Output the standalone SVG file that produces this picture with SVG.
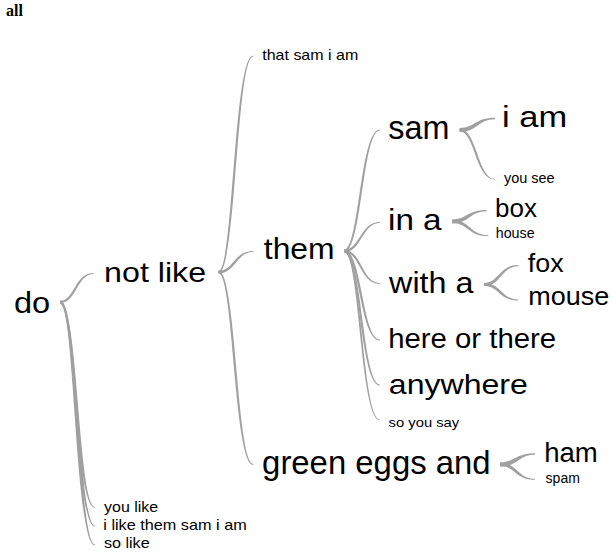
<svg xmlns="http://www.w3.org/2000/svg" width="613" height="557" viewBox="0 0 613 557">
<style>
  .w { font-family: "Liberation Sans", Arial, sans-serif; fill: #000; }
  .c path { fill: #a0a0a0; stroke: none; }
  .t { font-family: "Liberation Serif", "Times New Roman", serif; font-weight: bold; font-size: 16px; fill: #000; }
</style>
<rect width="613" height="557" fill="#fff"/>
<text class="t" x="6" y="16">all</text>
<g class="c" id="connectors">
  <path d="M60,300.8 C74.6,300.8 74.6,272.9 93.5,272.9 L93.5,274.1 C76.8,274.1 76.8,303.2 60,303.2Z"/>
  <path d="M60,300.4 C78.2,300.4 78.2,506.8 95,506.8 L95,507.8 C74.8,507.8 74.8,303.6 60,303.6Z"/>
  <path d="M60,300.4 C78.2,300.4 78.2,525.5 95,525.5 L95,526.5 C74.8,526.5 74.8,303.6 60,303.6Z"/>
  <path d="M60,300.4 C78.2,300.4 78.2,544.5 95,544.5 L95,545.5 C74.8,545.5 74.8,303.6 60,303.6Z"/>
  <path d="M218.5,270.8 C233.5,270.8 233.5,55.5 253.3,55.5 L253.3,56.5 C236.3,56.5 236.3,273.2 218.5,273.2Z"/>
  <path d="M218.5,270.7 C234,270.7 234,250.9 253.3,250.9 L253.3,252.1 C235.9,252.1 235.9,273.3 218.5,273.3Z"/>
  <path d="M218.5,270.8 C236.4,270.8 236.4,463.9 253.5,463.9 L253.5,465.1 C233.6,465.1 233.6,273.2 218.5,273.2Z"/>
  <path d="M344,249.8 C359.6,249.8 359.6,129.5 380,129.5 L380,130.5 C362.2,130.5 362.2,252.2 344,252.2Z"/>
  <path d="M344,249.8 C360.1,249.8 360.1,222 380,222 L380,223 C361.8,223 361.8,252.2 344,252.2Z"/>
  <path d="M344,249.8 C361.8,249.8 361.8,283 380,283 L380,284 C360.1,284 360.1,252.2 344,252.2Z"/>
  <path d="M344,249.8 C362.2,249.8 362.2,339.5 380,339.5 L380,340.5 C359.6,340.5 359.6,252.2 344,252.2Z"/>
  <path d="M344,249.8 C362.2,249.8 362.2,384.5 380,384.5 L380,385.5 C359.6,385.5 359.6,252.2 344,252.2Z"/>
  <path d="M344,250 C362,250 362,419.6 380,419.6 L380,420.4 C359.8,420.4 359.8,252 344,252Z"/>
  <path d="M459.5,128 C474.9,128 474.9,117.8 495,117.8 L495,119.2 C477.6,119.2 477.6,132 459.5,132Z"/>
  <path d="M459.5,128.7 C477.3,128.7 477.3,178.9 495,178.9 L495,179.7 C475.1,179.7 475.1,131.3 459.5,131.3Z"/>
  <path d="M452,219.5 C467,219.5 467,210.1 486.7,210.1 L486.7,211.3 C469.6,211.3 469.6,223.5 452,223.5Z"/>
  <path d="M452,220 C470.1,220 470.1,235.2 488.3,235.2 L488.3,236.2 C468.1,236.2 468.1,223 452,223Z"/>
  <path d="M484,282.9 C499,282.9 499,265.1 518.3,265.1 L518.3,266.3 C501.2,266.3 501.2,286.1 484,286.1Z"/>
  <path d="M484,282.9 C501.2,282.9 501.2,299.4 518.3,299.4 L518.3,300.6 C499,300.6 499,286.1 484,286.1Z"/>
  <path d="M500,462.3 C515,462.3 515,453.2 535,453.2 L535,454.8 C518,454.8 518,466.7 500,466.7Z"/>
  <path d="M500,462.9 C517.5,462.9 517.5,478.8 535,478.8 L535,479.8 C515.4,479.8 515.4,466.1 500,466.1Z"/>
</g>
<g id="n-do"><text class="w" x="13.9" y="313" font-size="30" textLength="36.2" lengthAdjust="spacingAndGlyphs">do</text></g>
<g id="n-not-like"><text class="w" x="104.1" y="282" font-size="28" textLength="102" lengthAdjust="spacingAndGlyphs">not like</text></g>
<g id="n-that-sam-i-am"><text class="w" x="262.3" y="60" font-size="14.5" textLength="95.9" lengthAdjust="spacingAndGlyphs">that sam i am</text></g>
<g id="n-them"><text class="w" x="263.8" y="258.5" font-size="30" textLength="70.8" lengthAdjust="spacingAndGlyphs">them</text></g>
<g id="n-green-eggs-and"><text class="w" x="262.1" y="474" font-size="33" textLength="228.5" lengthAdjust="spacingAndGlyphs">green eggs and</text></g>
<g id="n-you-like"><text class="w" x="104.1" y="511.7" font-size="14.5" textLength="54" lengthAdjust="spacingAndGlyphs">you like</text></g>
<g id="n-i-like-them-sam-i-am"><text class="w" x="103.3" y="530" font-size="14.5" textLength="143.4" lengthAdjust="spacingAndGlyphs">i like them sam i am</text></g>
<g id="n-so-like"><text class="w" x="103.9" y="548.3" font-size="14.5" textLength="45.8" lengthAdjust="spacingAndGlyphs">so like</text></g>
<g id="n-sam"><text class="w" x="388.3" y="139" font-size="34" textLength="61.1" lengthAdjust="spacingAndGlyphs">sam</text></g>
<g id="n-i-am"><text class="w" x="502" y="127" font-size="30" textLength="65.1" lengthAdjust="spacingAndGlyphs">i am</text></g>
<g id="n-you-see"><text class="w" x="503.9" y="183.3" font-size="14" textLength="50.7" lengthAdjust="spacingAndGlyphs">you see</text></g>
<g id="n-in-a"><text class="w" x="388" y="230" font-size="29" textLength="53.6" lengthAdjust="spacingAndGlyphs">in a</text></g>
<g id="n-box"><text class="w" x="495" y="216.7" font-size="25.5" textLength="41.9" lengthAdjust="spacingAndGlyphs">box</text></g>
<g id="n-house"><text class="w" x="495.7" y="238.3" font-size="14" textLength="38.9" lengthAdjust="spacingAndGlyphs">house</text></g>
<g id="n-with-a"><text class="w" x="389.1" y="293.3" font-size="29.5" textLength="84.4" lengthAdjust="spacingAndGlyphs">with a</text></g>
<g id="n-fox"><text class="w" x="527.8" y="271.7" font-size="25.5" textLength="35.8" lengthAdjust="spacingAndGlyphs">fox</text></g>
<g id="n-mouse"><text class="w" x="528.3" y="305" font-size="25.5" textLength="81" lengthAdjust="spacingAndGlyphs">mouse</text></g>
<g id="n-here-or-there"><text class="w" x="388.2" y="347.5" font-size="27.5" textLength="167.9" lengthAdjust="spacingAndGlyphs">here or there</text></g>
<g id="n-anywhere"><text class="w" x="388.8" y="394" font-size="28.5" textLength="139.1" lengthAdjust="spacingAndGlyphs">anywhere</text></g>
<g id="n-so-you-say"><text class="w" x="388.6" y="426.7" font-size="13.5" textLength="70.6" lengthAdjust="spacingAndGlyphs">so you say</text></g>
<g id="n-ham"><text class="w" x="544.2" y="461.7" font-size="27" textLength="53.6" lengthAdjust="spacingAndGlyphs">ham</text></g>
<g id="n-spam"><text class="w" x="545.6" y="482.7" font-size="14" textLength="34.3" lengthAdjust="spacingAndGlyphs">spam</text></g>
</svg>
